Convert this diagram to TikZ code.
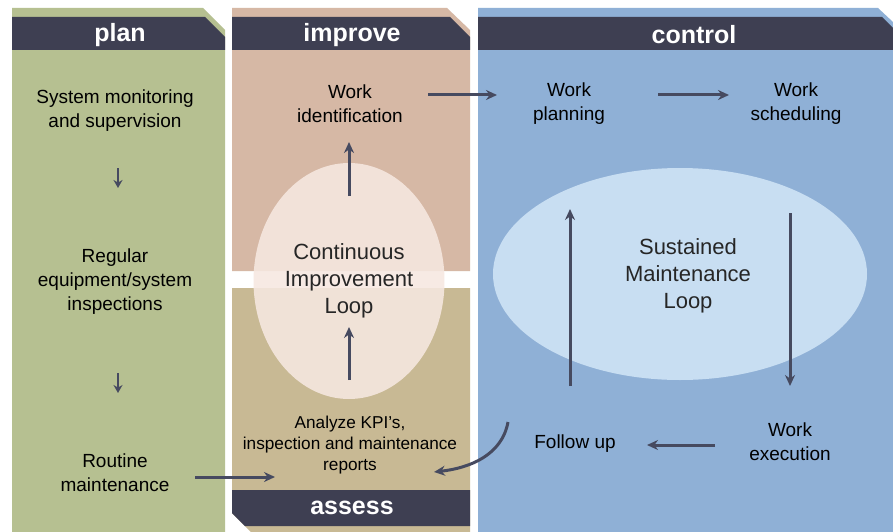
\documentclass[tikz,border=0pt]{standalone}
\usepackage{fontspec}
\setmainfont{Liberation Sans}
\usetikzlibrary{arrows.meta,shapes.geometric}
\definecolor{hdr}{RGB}{62,63,82}
\definecolor{plang}{RGB}{182,192,145}
\definecolor{imppink}{RGB}{214,184,165}
\definecolor{khaki}{RGB}{200,185,148}
\definecolor{ctrlblue}{RGB}{143,176,214}
\definecolor{ellpink}{RGB}{246,232,225}
\definecolor{ellblue}{RGB}{200,222,242}
\definecolor{arr}{RGB}{70,74,96}
\tikzset{
  hdrtext/.style={text=white,font=\fontsize{25}{30}\selectfont\bfseries},
  lbl/.style={align=center,font=\fontsize{19}{24}\selectfont,text=black},
  small/.style={align=center,font=\fontsize{17.2}{21}\selectfont,text=black},
  looptext/.style={align=center,font=\fontsize{22}{27}\selectfont,text=black!85},
  arrowline/.style={draw=arr,line width=3pt,-{Stealth[length=11pt,width=10pt]}},
  tinyarrow/.style={draw=arr,line width=2.4pt,-{Stealth[length=8pt,width=9pt]}},
}
\begin{document}
\begin{tikzpicture}[x=1pt,y=-1pt]
\useasboundingbox (0,0) rectangle (893,532);
\fill[white] (0,0) rectangle (893,532);
% plan column
\fill[plang] (12,8) -- (203,8) -- (225,30) -- (225,532) -- (12,532) -- cycle;
\fill[hdr] (12,17) -- (205,17) -- (225,37) -- (225,50) -- (12,50) -- cycle;
% improve column
\fill[imppink] (232,8) -- (447,8) -- (470,30) -- (470,271) -- (232,271) -- cycle;
\fill[hdr] (232,17) -- (450,17) -- (470,37) -- (470,50) -- (232,50) -- cycle;
\fill[khaki] (232,288) -- (470,288) -- (470,532) -- (251,532) -- (232,513) -- cycle;
% control column
\fill[ctrlblue] (478,8) -- (878,8) -- (893,22) -- (893,532) -- (478,532) -- cycle;
\fill[hdr] (478,17) -- (882,17) -- (893,28) -- (893,50) -- (478,50) -- cycle;
% ellipses
\node[ellipse,fill=ellpink,fill opacity=0.88,text opacity=1,minimum width=184pt,minimum height=236pt,looptext] (cil) at (349,281) {Continuous\\Improvement\\Loop};
\node[ellipse,fill=ellblue,minimum width=374pt,minimum height=212pt,anchor=center] (sml) at (680,274) {};
\node[looptext] (smltxt) at (688,276) {Sustained\\Maintenance\\Loop};
% assess header
\fill[hdr] (232,490) -- (470,490) -- (470,526) -- (245,526) -- (232,513) -- cycle;
% headers
\node[hdrtext] (hplan) at (120,35) {plan};
\node[hdrtext] (himp) at (352,35) {improve};
\node[hdrtext] (hctl) at (694,35) {control};
\node[hdrtext] (hass) at (352,508) {assess};
% plan texts
\node[lbl] (sysmon) at (115,111) {System monitoring\\and supervision};
\node[lbl] (regular) at (115,282) {Regular\\equipment/system\\inspections};
\node[lbl] (routine) at (115,473) {Routine\\maintenance};
\coordinate (a1s) at (118,168); \coordinate (a1e) at (118,188);
\coordinate (a2s) at (118,373); \coordinate (a2e) at (118,393);
\draw[tinyarrow] (a1s) -- (a1e);
\draw[tinyarrow] (a2s) -- (a2e);
% improve texts
\node[lbl] (workid) at (350,104) {Work\\identification};
\node[small] (analyze) at (350,445) {Analyze KPI’s,\\inspection and maintenance\\reports};
% control texts
\node[lbl] (plan2) at (569,104) {Work\\planning};
\node[lbl] (sched) at (796,104) {Work\\scheduling};
\node[lbl] (exec) at (790,442) {Work\\execution};
\node[lbl] (follow) at (575,444) {Follow up};
% connectors
\coordinate (rm1) at (195,477); \coordinate (rm2) at (275,477);
\draw[arrowline] (rm1) -- (rm2);
\coordinate (wi1) at (428,95); \coordinate (wi2) at (497,95);
\draw[arrowline] (wi1) -- (wi2);
\coordinate (wp1) at (658,95); \coordinate (wp2) at (729,95);
\draw[arrowline] (wp1) -- (wp2);
\coordinate (ws1) at (790,213); \coordinate (ws2) at (790,386);
\draw[arrowline] (ws1) -- (ws2);
\coordinate (we1) at (715,445); \coordinate (we2) at (647,445);
\draw[arrowline] (we1) -- (we2);
\coordinate (fu1) at (570,386); \coordinate (fu2) at (570,209);
\draw[arrowline] (fu1) -- (fu2);
\coordinate (ak1) at (349,380); \coordinate (ak2) at (349,327);
\draw[arrowline] (ak1) -- (ak2);
\coordinate (cl1) at (349,196); \coordinate (cl2) at (349,142);
\draw[arrowline] (cl1) -- (cl2);
\coordinate (cv1) at (508,422); \coordinate (cv2) at (434,472);
\draw[arrowline] (cv1) .. controls (502,455) and (470,468) .. (cv2);
\end{tikzpicture}
\end{document}
